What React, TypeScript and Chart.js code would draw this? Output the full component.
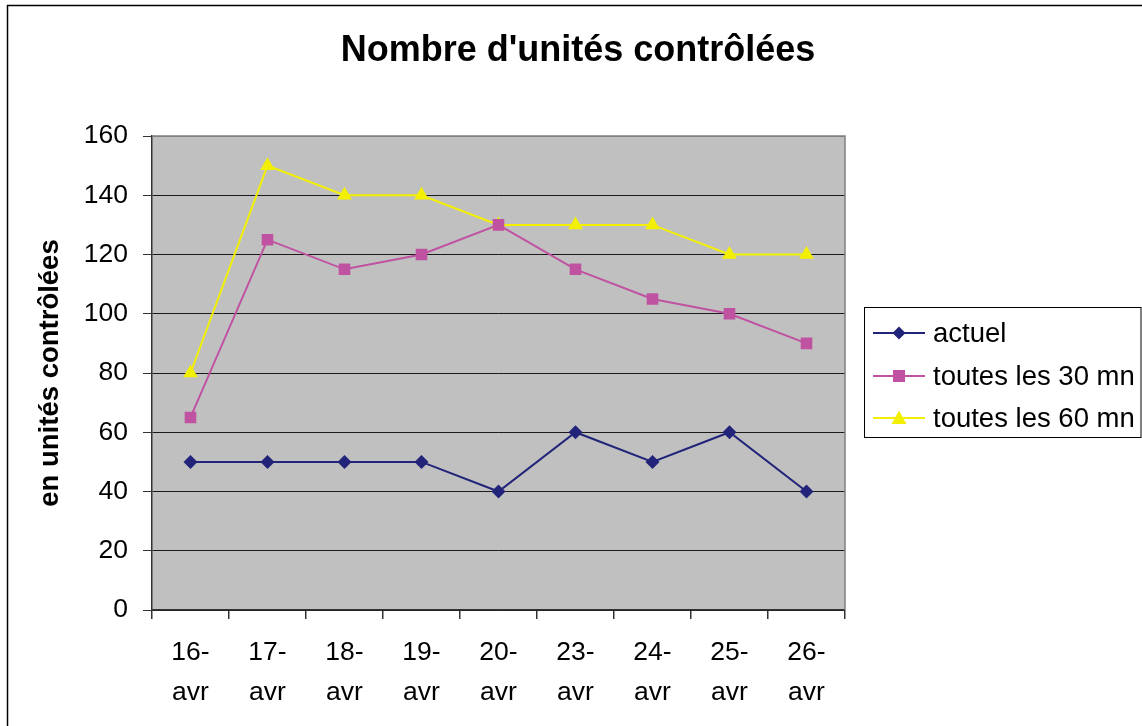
import React, { useEffect, useRef } from "react";
import { Chart, registerables } from "chart.js";

Chart.register(...registerables);

const categories: string[][] = [
  ["16-", "avr"], ["17-", "avr"], ["18-", "avr"], ["19-", "avr"], ["20-", "avr"],
  ["23-", "avr"], ["24-", "avr"], ["25-", "avr"], ["26-", "avr"],
];
const actuel = [50, 50, 50, 50, 40, 60, 50, 60, 40];
const toutes30 = [65, 125, 115, 120, 130, 115, 105, 100, 90];
const toutes60 = [80, 150, 140, 140, 130, 130, 130, 120, 120];
const seriesNames = ["actuel", "toutes les 30 mn", "toutes les 60 mn"];
const seriesColors = ["#22247A", "#C052A2", "#F2F000"];
const titleText = "Nombre d'unités contrôlées";
const yTitle = "en unités contrôlées";

const FONT = "'Liberation Sans', Arial, sans-serif";

const decorPlugin = {
  id: "decor",
  beforeDraw(chart: any) {
    const { ctx, chartArea: a } = chart;
    ctx.save();
    ctx.fillStyle = "#ffffff";
    ctx.fillRect(0, 0, chart.width, chart.height);
    ctx.fillStyle = "#C0C0C0";
    ctx.fillRect(a.left, a.top, a.right - a.left, a.bottom - a.top);
    ctx.strokeStyle = "#000000";
    ctx.lineWidth = 1.5;
    ctx.beginPath();
    ctx.moveTo(7.5, chart.height);
    ctx.lineTo(7.5, 5.5);
    ctx.lineTo(chart.width, 5.5);
    ctx.stroke();
    ctx.restore();
  },
  afterDatasetsDraw(chart: any) {
    const { ctx, chartArea: a } = chart;
    ctx.save();
    ctx.strokeStyle = "#808080";
    ctx.lineWidth = 1.5;
    ctx.beginPath();
    ctx.moveTo(a.left, a.top);
    ctx.lineTo(a.right, a.top);
    ctx.lineTo(a.right, a.bottom);
    ctx.stroke();

    ctx.fillStyle = "#000000";
    ctx.font = `bold 36px ${FONT}`;
    ctx.textAlign = "center";
    ctx.textBaseline = "middle";
    ctx.fillText(titleText, 578, 51);

    const lx = 864.5, ly = 307.5, lw = 1141 - 864.5, lh = 130;
    ctx.strokeStyle = "#000000";
    ctx.lineWidth = 1;
    ctx.fillStyle = "#ffffff";
    ctx.fillRect(lx, ly, lw, lh);
    ctx.strokeRect(lx, ly, lw, lh);
    const rows = [333, 376, 418];
    chart.data.datasets.forEach((ds: any, i: number) => {
      const y = rows[i];
      ctx.strokeStyle = ds.borderColor;
      ctx.lineWidth = 2;
      ctx.beginPath();
      ctx.moveTo(873, y);
      ctx.lineTo(925, y);
      ctx.stroke();
      ctx.fillStyle = ds.backgroundColor;
      const cx = 899;
      ctx.beginPath();
      if (i === 0) {
        ctx.moveTo(cx, y - 6.5);
        ctx.lineTo(cx + 6.5, y);
        ctx.lineTo(cx, y + 6.5);
        ctx.lineTo(cx - 6.5, y);
        ctx.closePath();
      } else if (i === 1) {
        ctx.rect(cx - 6, y - 6, 12, 12);
      } else {
        ctx.moveTo(cx, y - 7.5);
        ctx.lineTo(cx + 7.5, y + 6);
        ctx.lineTo(cx - 7.5, y + 6);
        ctx.closePath();
      }
      ctx.fill();
      ctx.fillStyle = "#000000";
      ctx.font = `27.5px ${FONT}`;
      ctx.textAlign = "left";
      ctx.textBaseline = "middle";
      ctx.fillText(ds.label, 933, y + 1);
    });
    ctx.restore();
  },
};

export default function App() {
  const ref = useRef<HTMLCanvasElement>(null);
  useEffect(() => {
    if (!ref.current) return;
    const chart = new Chart(ref.current, {
      type: "line",
      data: {
        labels: categories,
        datasets: [
          {
            label: seriesNames[0],
            data: actuel,
            borderColor: seriesColors[0],
            backgroundColor: seriesColors[0],
            borderWidth: 2,
            pointStyle: "rectRot",
            pointRadius: 7,
            pointHoverRadius: 7,
            pointBorderWidth: 0,
            tension: 0,
          },
          {
            label: seriesNames[1],
            data: toutes30,
            borderColor: seriesColors[1],
            backgroundColor: seriesColors[1],
            borderWidth: 2,
            pointStyle: "rect",
            pointRadius: 8.2,
            pointHoverRadius: 8.2,
            pointBorderWidth: 0,
            tension: 0,
          },
          {
            label: seriesNames[2],
            data: toutes60,
            borderColor: seriesColors[2],
            backgroundColor: seriesColors[2],
            borderWidth: 2,
            pointStyle: "triangle",
            pointRadius: 8.5,
            pointHoverRadius: 8.5,
            pointBorderWidth: 0,
            tension: 0,
          },
        ],
      },
      options: {
        animation: false,
        responsive: false,
        maintainAspectRatio: false,
        layout: { padding: { top: 136, right: 297, left: 20, bottom: 0 } },
        plugins: {
          legend: { display: false },
          title: { display: false },
          tooltip: { enabled: false },
        },
        scales: {
          x: {
            type: "category",
            offset: true,
            grid: {
              offset: true,
              drawOnChartArea: false,
              drawTicks: true,
              tickLength: 9,
              color: "#333333",
              lineWidth: 1.5,
            },
            border: { color: "#333333", width: 1.5 },
            ticks: {
              color: "#000000",
              font: { family: FONT, size: 26.5, lineHeight: 1.5 },
              padding: 14,
              maxRotation: 0,
              minRotation: 0,
              autoSkip: false,
            },
            afterFit: (s: any) => { s.height = 116; },
          },
          y: {
            min: 0,
            max: 160,
            ticks: {
              stepSize: 20,
              color: "#000000",
              font: { family: FONT, size: 26.5 },
              padding: 15,
            },
            grid: {
              color: (c: any) => (c.tick && c.tick.value === 160 ? "#808080" : "#1a1a1a"),
              lineWidth: 1,
              tickLength: 9,
              tickColor: "#333333",
            },
            border: { color: "#333333", width: 1.5 },
            title: {
              display: true,
              text: yTitle,
              color: "#000000",
              font: { family: FONT, size: 27.5, weight: "bold" },
              padding: { top: 14, bottom: 0 },
            },
            afterFit: (s: any) => { s.width = 132; },
          },
        },
      },
      plugins: [decorPlugin],
    } as any);
    return () => chart.destroy();
  }, []);
  return (
    <div style={{ position: "fixed", left: 0, top: 0, width: 1142, height: 726 }}>
      <canvas ref={ref} width={1142} height={726} style={{ width: 1142, height: 726, display: "block" }} />
    </div>
  );
}
